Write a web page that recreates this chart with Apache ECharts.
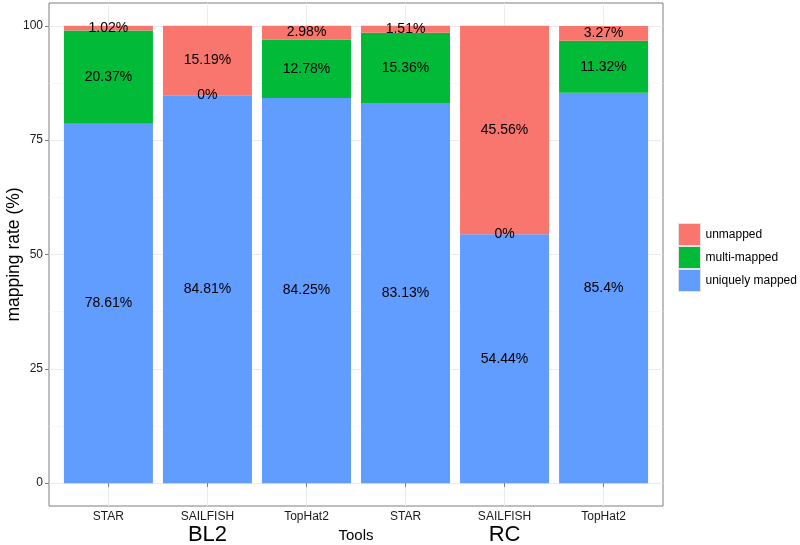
<!DOCTYPE html>
<html>
<head>
<meta charset="utf-8">
<script src="https://cdn.jsdelivr.net/npm/echarts@6/dist/echarts.min.js"></script>
<style>html,body{margin:0;padding:0;background:#fff}#c{width:800px;height:545px}</style>
</head>
<body>
<div id="c"></div>
<script>
const tools = ['STAR', 'SAILFISH', 'TopHat2', 'STAR', 'SAILFISH', 'TopHat2'];
const groups = ['BL2', 'RC'];
const groupCenters = [2, 5];
const uniquely = [78.61, 84.81, 84.25, 83.13, 54.44, 85.4];
const multi = [20.37, 0, 12.78, 15.36, 0, 11.32];
const unmapped = [1.02, 15.19, 2.98, 1.51, 45.56, 3.27];
const yTicks = [0, 25, 50, 75, 100];
const yMinor = [12.5, 37.5, 62.5, 87.5];
const xPos = tools.map((t, i) => i + 1);

const FONT = '"Liberation Sans", Arial, Helvetica, sans-serif';
const chart = echarts.init(document.getElementById('c'), null, {renderer: 'canvas'});

function mk(name, vals, color) {
  return {
    name: name, type: 'bar', stack: 'all', barWidth: 89,
    encode: {x: 1, y: 0},
    data: vals.map((v, i) => [v, xPos[i]]),
    itemStyle: {color: color},
    label: {show: true, position: 'inside', color: '#000', fontSize: 14, fontFamily: FONT,
      formatter: p => p.value[0] + '%'},
    z: 5
  };
}

chart.setOption({
  animation: false,
  textStyle: {fontFamily: FONT},
  grid: {left: 49, right: 137, top: 3, bottom: 39, outerBoundsMode: 'none', containLabel: false,
    show: true, borderColor: '#7f7f7f', borderWidth: 1, backgroundColor: '#fff'},
  legend: {
    orient: 'vertical', left: 678, top: 223, padding: 0, itemWidth: 22, itemHeight: 22, itemGap: 0,
    icon: 'rect',
    data: ['unmapped', 'multi-mapped', 'uniquely mapped'],
    textStyle: {fontSize: 12, color: '#000', fontFamily: FONT},
    itemStyle: {borderColor: '#e3e3e3', borderWidth: 1}
  },
  xAxis: [{
    type: 'value', min: 0.4, max: 6.6,
    name: 'Tools', nameLocation: 'middle', nameGap: 22, nameMoveOverlap: false,
    nameTextStyle: {fontSize: 15, color: '#000', fontFamily: FONT},
    axisLine: {show: false},
    axisTick: {show: true, length: 4, customValues: xPos, lineStyle: {color: '#7f7f7f'}},
    axisLabel: {customValues: xPos, formatter: v => tools[Math.round(v) - 1], fontSize: 12, color: '#1a1a1a', margin: 5, fontFamily: FONT},
    splitLine: {show: true, lineStyle: {color: '#ebebeb', width: 1}}
  }, {
    type: 'value', min: 0.4, max: 6.6, position: 'bottom',
    axisLine: {show: false}, axisTick: {show: false}, splitLine: {show: false},
    axisLabel: {customValues: groupCenters, formatter: v => groups[groupCenters.indexOf(Math.round(v))], fontSize: 22, color: '#000', margin: 18, fontFamily: FONT}
  }],
  yAxis: {
    type: 'value', min: -5, max: 105,
    name: 'mapping rate (%)', nameLocation: 'middle', nameGap: 26, nameMoveOverlap: false,
    nameTextStyle: {fontSize: 17.5, color: '#000', fontFamily: FONT},
    axisLine: {show: false},
    axisTick: {show: true, length: 4, customValues: yTicks, lineStyle: {color: '#7f7f7f'}},
    axisLabel: {customValues: yTicks, fontSize: 12, color: '#1a1a1a', margin: 6, fontFamily: FONT},
    splitLine: {show: true, lineStyle: {color: '#ebebeb', width: 1}}
  },
  series: [
    {
      type: 'line', data: [], z: 1, silent: true,
      markLine: {silent: true, z: 1, symbol: 'none', label: {show: false},
        lineStyle: {color: '#f4f4f4', width: 0.6, type: 'solid'},
        data: yMinor.map(v => ({yAxis: v}))}
    },
    mk('uniquely mapped', uniquely, '#619CFF'),
    mk('multi-mapped', multi, '#00BA38'),
    mk('unmapped', unmapped, '#F8766D')
  ]
});
</script>
</body>
</html>
